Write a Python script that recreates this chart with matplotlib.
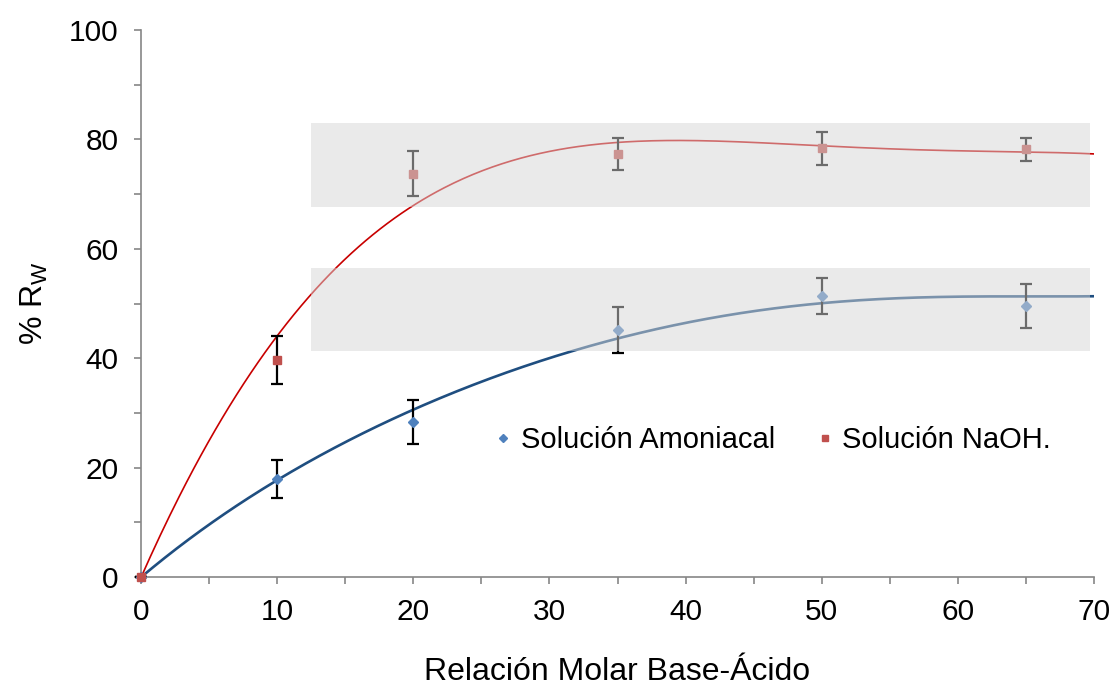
#!/usr/bin/env python3
"""Recovery %R_W versus base/acid molar ratio for two basic solutions."""

import matplotlib

matplotlib.use("Agg")
import matplotlib.pyplot as plt
import numpy as np
from matplotlib.patches import Rectangle
from matplotlib.ticker import MultipleLocator

ratio = [0, 10, 20, 35, 50, 65]

amoniacal = [0.0, 17.9, 28.3, 45.2, 51.4, 49.5]
amoniacal_err = [0.0, 3.4, 4.0, 4.2, 3.3, 4.0]

naoh = [0.0, 39.7, 73.7, 77.3, 78.4, 78.2]
naoh_err = [0.0, 4.4, 4.1, 2.9, 3.0, 2.1]

# trend lines, sampled every 5 units of molar ratio
trend_x = [0, 5, 10, 15, 20, 25, 30, 35, 40, 45, 50, 55, 60, 65, 70]
trend_amoniacal = [0.0, 9.4, 18.0, 24.4, 30.6, 36.0, 39.8, 43.5, 46.4,
                   48.9, 50.0, 50.8, 51.2, 51.4, 51.3]
trend_naoh = [0.0, 24.7, 44.3, 58.0, 68.1, 74.1, 77.9, 79.3, 79.8,
              79.5, 78.8, 78.4, 77.9, 77.6, 77.4]

plt.rcParams["font.family"] = ["Liberation Sans", "DejaVu Sans"]

fig = plt.figure(figsize=(11.14, 6.92), dpi=100)
ax = fig.add_axes([0.1266, 0.1662, 0.8555, 0.7904])

# smooth polynomial through the sampled trend values
xs = np.linspace(trend_x[0], trend_x[-1], 400)
for values, color, lw in ((trend_naoh, "#C80000", 1.2),
                          (trend_amoniacal, "#1F4E80", 1.9)):
    coeffs = np.polyfit(trend_x, values, 5)
    ax.plot(xs, np.polyval(coeffs, xs), color=color, linewidth=lw, zorder=2)

ax.errorbar(ratio, amoniacal, yerr=amoniacal_err, fmt="D", color="#4F81BD",
            markersize=5, ecolor="black", elinewidth=1.6, capsize=4.5,
            capthick=1.6, zorder=3, clip_on=False, label="Solución Amoniacal")
ax.errorbar(ratio, naoh, yerr=naoh_err, fmt="s", color="#C0504D",
            markersize=5.5, ecolor="black", elinewidth=1.6, capsize=4.5,
            capthick=1.6, zorder=3, clip_on=False, label="Solución NaOH.")

# shaded plateau bands drawn over the data
for y0, y1 in ((67.6, 83.0), (41.3, 56.5)):
    ax.add_patch(Rectangle((12.5, y0), 57.2, y1 - y0, facecolor="#D6D6D6",
                           edgecolor="none", alpha=0.5, zorder=4))

ax.set_xlim(0, 70)
ax.set_ylim(0, 100)
ax.xaxis.set_major_locator(MultipleLocator(10))
ax.xaxis.set_minor_locator(MultipleLocator(5))
ax.yaxis.set_major_locator(MultipleLocator(20))
ax.yaxis.set_minor_locator(MultipleLocator(10))

for side in ("top", "right"):
    ax.spines[side].set_visible(False)
for side in ("left", "bottom"):
    ax.spines[side].set_color("#868686")
    ax.spines[side].set_linewidth(1.2)

ax.tick_params(which="both", colors="#868686", width=1.2, length=5,
               labelcolor="black", labelsize=21.5)
ax.tick_params(axis="x", pad=10)
ax.tick_params(axis="y", pad=11)

ax.set_xlabel("Relación Molar Base-Ácido", fontsize=23, va="baseline")
ax.xaxis.set_label_coords(0.5, -0.188)
ax.set_ylabel("% R$_\\mathregular{W}$", fontsize=23, va="center")
ax.yaxis.set_label_coords(-0.112, 0.5)

handles, labels = ax.get_legend_handles_labels()
handles = [h[0] for h in handles]
ax.legend(handles, labels, loc="center left", bbox_to_anchor=(0.345, 0.25),
          ncol=2, frameon=False, fontsize=21, markerscale=0.75,
          handlelength=0.5, handletextpad=0.35, columnspacing=1.45)

fig.savefig("out.png", dpi=100)
plt.close(fig)
